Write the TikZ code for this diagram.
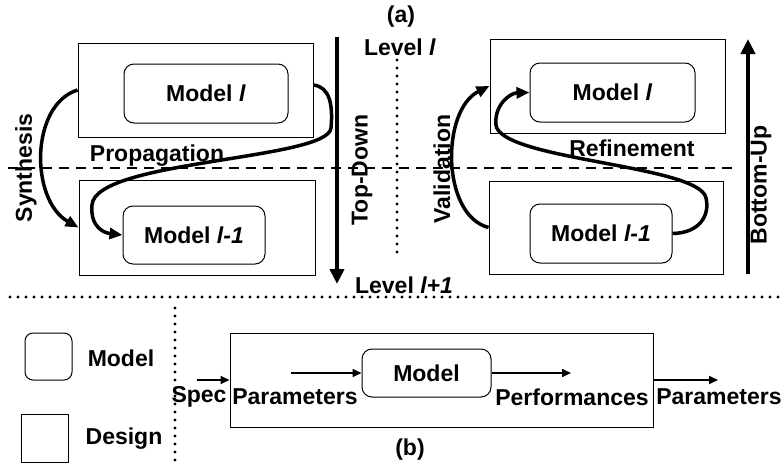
\documentclass[tikz,border=0pt]{standalone}
\usepackage{fontspec}
\setmainfont{Liberation Sans}
\usetikzlibrary{arrows.meta}
\begin{document}
\begin{tikzpicture}[x=1pt,y=-1pt,
  txt/.style={font=\fontsize{23}{27}\selectfont\bfseries, inner sep=0pt},
  designbox/.style={draw, line width=1pt, inner sep=0pt},
  modelbox/.style={draw, line width=1pt, rounded corners=10pt, inner sep=0pt,
                   font=\fontsize{23}{27}\selectfont\bfseries},
  flow/.style={line width=3.5pt, -{Triangle[length=13pt,width=11pt]}},
  axis/.style={line width=3.8pt, -{Triangle[length=15pt,width=14pt]}},
  small/.style={line width=1.6pt, -{Triangle[length=9pt,width=8pt]}},
  dots/.style={line width=3.4pt, line cap=round, dash pattern=on 0pt off 8pt},
  levelline/.style={line width=2pt, dash pattern=on 10pt off 7pt}]
\useasboundingbox (0,0) rectangle (781,466);

% ---- (a) top-down flow ----
\node[designbox, minimum width=235pt, minimum height=94pt] (dUL) at (195.5,90) {};
\node[modelbox, minimum width=164pt, minimum height=59pt] (mUL) at (206,93.5) {Model \textit{l}};
\node[designbox, minimum width=236pt, minimum height=95pt] (dLL) at (197,227.5) {};
\node[modelbox, minimum width=142pt, minimum height=58pt] (mLL) at (194,235) {Model \textit{l-1}};

% ---- (a) bottom-up flow ----
\node[designbox, minimum width=235pt, minimum height=94pt] (dUR) at (607.5,86) {};
\node[modelbox, minimum width=165pt, minimum height=59pt] (mUR) at (612.5,92.5) {Model \textit{l}};
\node[designbox, minimum width=234pt, minimum height=93pt] (dLR) at (606,227.5) {};
\node[modelbox, minimum width=142pt, minimum height=59pt] (mLR) at (601,233.5) {Model \textit{l-1}};

% level boundary and separators
\coordinate (lvlA) at (8,168);
\coordinate (lvlB) at (738,168);
\draw[levelline] (lvlA) -- (lvlB);
\coordinate (vdA) at (397,60);
\coordinate (vdB) at (397,257);
\draw[dots] (vdA) -- (vdB);
\coordinate (hdA) at (10,297);
\coordinate (hdB) at (781,297);
\draw[dots] (hdA) -- (hdB);
\coordinate (ldA) at (175,308);
\coordinate (ldB) at (175,462);
\draw[dots] (ldA) -- (ldB);

% direction arrows
\coordinate (tdA) at (337,37);
\coordinate (tdB) at (337,284);
\draw[axis] (tdA) -- (tdB);
\coordinate (buA) at (748,274);
\coordinate (buB) at (748,39);
\draw[axis] (buA) -- (buB);

% curved flows
\draw[flow] (dUL.west) .. controls (30,105) and (30,200) .. (dLL.west);
\draw[flow] ([yshift=5pt]dUL.east) .. controls (330,87) and (333,105) .. (331,128)
  .. controls (328,160) and (95,160) .. (92,205)
  .. controls (90,228) and (105,233) .. (mLL.west);
\draw[flow] (dLR.west) .. controls (441,215) and (441,110) .. (dUR.west);
\draw[flow] (mLR.east) .. controls (700,233) and (710,215) .. (706,198)
  .. controls (700,165) and (500,160) .. (496,125)
  .. controls (494,105) and (510,93) .. (mUR.west);

% labels of (a)
\node[txt] (ta) at (401,17) {(a)};
\node[txt] (tlvl) at (400,47) {Level \textit{l}};
\node[txt] (tlvl1) at (404,285) {Level \textit{l+1}};
\node[txt, rotate=90] (tsyn) at (26,168) {Synthesis};
\node[txt] (tprop) at (157,156) {Propagation};
\node[txt, rotate=90] (ttd) at (362,170) {Top-Down};
\node[txt, rotate=90] (tval) at (442,169) {Validation};
\node[txt] (tref) at (632,148) {Refinement};
\node[txt, rotate=90] (tbu) at (761,185) {Bottom-Up};

% ---- (b) legend ----
\node[modelbox, rounded corners=8pt, minimum width=47pt, minimum height=47pt] (lgM) at (48.5,356.5) {};
\node[txt] (lgMt) at (121,358) {Model};
\node[designbox, minimum width=47pt, minimum height=48pt] (lgD) at (44.5,438) {};
\node[txt] (lgDt) at (124,439) {Design};

% ---- (b) design step ----
\node[designbox, minimum width=423pt, minimum height=94pt] (dB) at (441.5,380) {};
\node[modelbox, minimum width=129pt, minimum height=48pt] (mB) at (426.5,373) {Model};
\coordinate (pin) at (291,373);
\coordinate (pout) at (571,373);
\coordinate (spec) at (197,380);
\coordinate (outp) at (718,380);
\draw[small] (pin) -- (mB.west);
\draw[small] (mB.east) -- (pout);
\draw[small] (spec) -- (dB.west);
\draw[small] (dB.east) -- (outp);
\node[txt] (tspec) at (199,397) {Spec};
\node[txt] (tpar) at (295,397) {Parameters};
\node[txt] (tperf) at (572,397) {Performances};
\node[txt] (tpar2) at (719,397) {Parameters};
\node[txt] (tb) at (410,450) {(b)};
\end{tikzpicture}
\end{document}
